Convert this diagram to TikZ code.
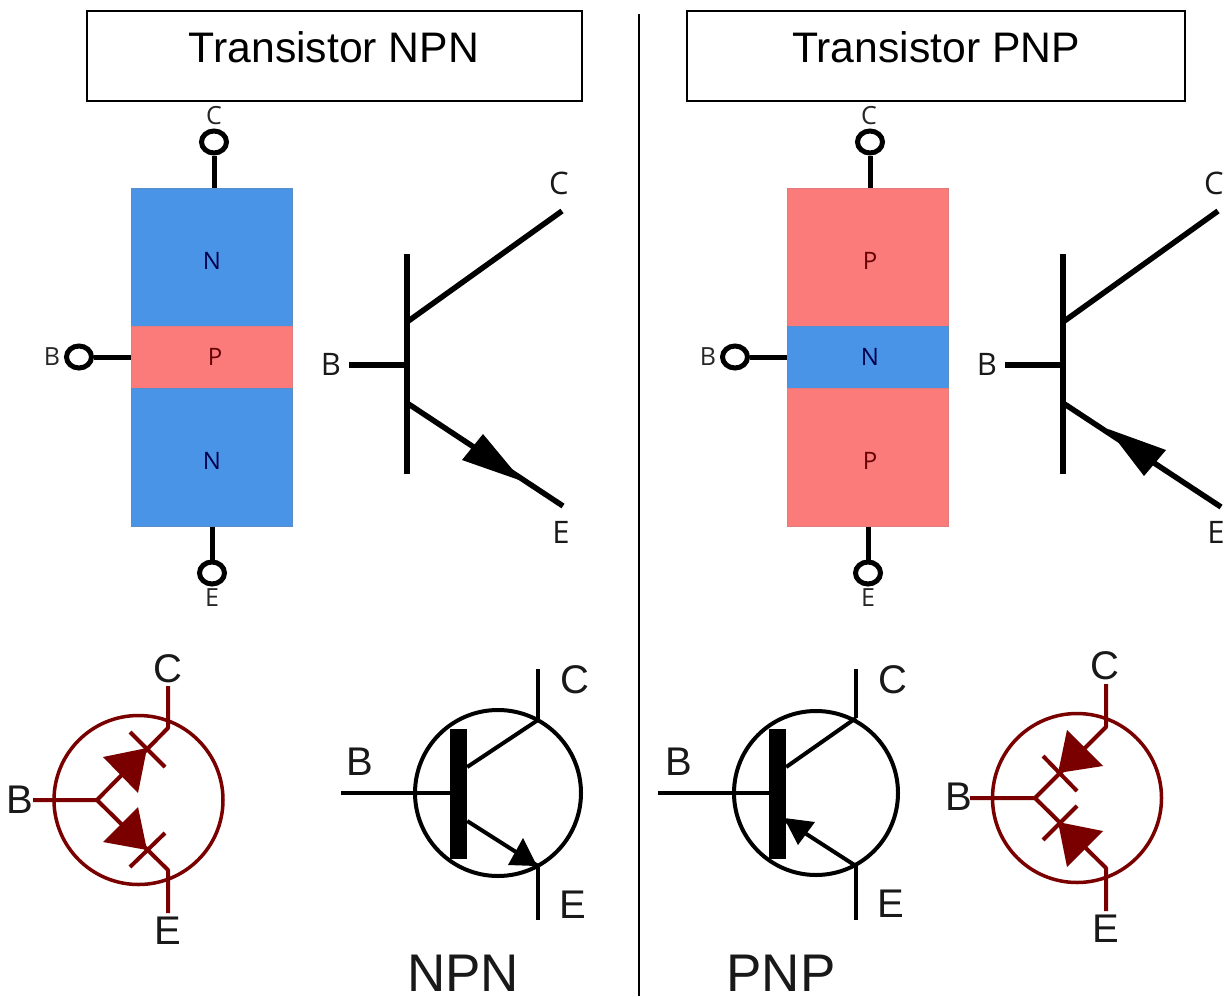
\documentclass[tikz,border=0pt]{standalone}
\usepackage{fontspec}
\setmainfont{Liberation Sans}
\newfontfamily\labelfont{Open Sans}
\usetikzlibrary{calc, arrows, shapes.geometric}
\definecolor{nblue}{HTML}{4A94E8}
\definecolor{pred}{HTML}{FB7B7B}
\definecolor{wine}{HTML}{7A0000}
\tikzstyle{titlebox}=[draw, line width=1.5pt, minimum height=90pt, inner sep=0pt]
\tikzstyle{titletext}=[inner sep=0pt, font=\fontsize{42.7}{50}\selectfont]
\tikzstyle{nlayer}=[fill=nblue, draw=nblue!70!gray, line width=1pt, minimum width=161pt, inner sep=0pt, text=blue!30!black, font=\labelfont\fontsize{24}{28}\selectfont]
\tikzstyle{player}=[fill=pred, draw=pred!80!gray, line width=1pt, minimum width=161pt, inner sep=0pt, text=red!40!black, font=\labelfont\fontsize{24}{28}\selectfont]
\tikzstyle{tall}=[minimum height=138pt, text height=24pt, text depth=0pt]
\tikzstyle{ring}=[draw, ellipse, fill=white, line width=5pt, minimum width=25pt, minimum height=22pt, inner sep=0pt]
\tikzstyle{smalltext}=[inner sep=0pt, text=black!85, font=\labelfont\fontsize{25}{28}\selectfont]
\tikzstyle{midtext}=[inner sep=0pt, text=black!90, font=\labelfont\fontsize{31}{36}\selectfont]
\tikzstyle{bigtext}=[inner sep=0pt, text=black!90, font=\fontsize{40}{46}\selectfont]
\tikzstyle{nametext}=[inner sep=0pt, text=black!90, font=\fontsize{53}{60}\selectfont]
\tikzstyle{leadline}=[line width=5pt]
\tikzstyle{symline}=[line width=5.5pt]
\tikzstyle{wire}=[line width=4pt, wine]
\tikzstyle{bk}=[line width=4pt]
\begin{document}
\begin{tikzpicture}[x=1pt,y=-1pt,node distance=100pt]
      \useasboundingbox (0,0) rectangle (1226,996);
      \fill[white] (0,0) rectangle (1226,996);
      \node [titlebox, minimum width=495pt] (t1) at (334.5,56) {};
      \node [titlebox, minimum width=498pt] (t2) at (936,56) {};
      \node [titletext] (t1text) at (334,47) {Transistor NPN};
      \node [titletext] (t2text) at (936,47) {Transistor PNP};
      \coordinate (sep1) at (639,14);
      \coordinate (sep2) at (639,996);
      \draw [line width=2pt] (sep1) -- (sep2);
      % NPN layers
      \node [nlayer, tall] (n1) at (212,257) {N};
      \node [player, minimum height=62pt] (p1) [below of=n1] {\hspace*{6pt}P};
      \node [nlayer, tall] (n2) [below of=p1] {N};
      \node [ring] (c1) at (214,142) {};
      \node [ring] (b1) at (79,357) {};
      \node [ring] (e1) at (212,573) {};
      \node [smalltext] (c1l) at (214,116) {C};
      \node [smalltext] (b1l) at (52,357) {B};
      \node [smalltext] (e1l) at (212,598) {E};
      \draw [leadline] (c1) -- (c1 |- n1.north);
      \draw [leadline] (b1) -- (p1.west);
      \draw [leadline] (e1) -- (e1 |- n2.south);
      % PNP layers
      \node [player, tall] (p2) at (868,257) {\hspace*{4pt}P};
      \node [nlayer, minimum height=62pt] (n3) [below of=p2] {\hspace*{4pt}N};
      \node [player, tall] (p3) [below of=n3] {\hspace*{4pt}P};
      \node [ring] (c2) at (870,142) {};
      \node [ring] (b2) at (735,357) {};
      \node [ring] (e2) at (868,573) {};
      \node [smalltext] (c2l) at (869,116) {C};
      \node [smalltext] (b2l) at (708,357) {B};
      \node [smalltext] (e2l) at (868,598) {E};
      \draw [leadline] (c2) -- (c2 |- p2.north);
      \draw [leadline] (b2) -- (n3.west);
      \draw [leadline] (e2) -- (e2 |- p3.south);
      % NPN symbol
      \coordinate (bar1a) at (407,254);
      \coordinate (bar1b) at (407,474);
      \coordinate (bas1) at (349,365);
      \coordinate (bas1e) at (407,365);
      \coordinate (col1a) at (407,322);
      \coordinate (col1) at (562,211);
      \coordinate (emi1a) at (407,403);
      \coordinate (emi1) at (563,506);
      \draw [symline] (bar1a) -- (bar1b);
      \draw [symline] (bas1) -- (bas1e);
      \draw [symline] (col1a) -- (col1);
      \draw [symline] (emi1a) -- (emi1);
      \fill (522,481) -- (483,434) -- (462,460) -- cycle;
      \node [midtext] (c3l) at (559,183) {C};
      \node [midtext] (b3l) at (331,364) {B};
      \node [midtext] (e3l) at (561,532) {E};
      % PNP symbol
      \coordinate (bar2a) at (1063,254);
      \coordinate (bar2b) at (1063,474);
      \coordinate (bas2) at (1005,365);
      \coordinate (bas2e) at (1063,365);
      \coordinate (col2a) at (1063,322);
      \coordinate (col2) at (1218,211);
      \coordinate (emi2a) at (1063,403);
      \coordinate (emi2) at (1221,507);
      \draw [symline] (bar2a) -- (bar2b);
      \draw [symline] (bas2) -- (bas2e);
      \draw [symline] (col2a) -- (col2);
      \draw [symline] (emi2a) -- (emi2);
      \fill (1108,429) -- (1166,450) -- (1144,476) -- cycle;
      \node [midtext] (c4l) at (1214,183) {C};
      \node [midtext] (b4l) at (987,364) {B};
      \node [midtext] (e4l) at (1216,532) {E};
      % NPN diode model
      \node [draw=wine, circle, line width=3.5pt, minimum size=169pt, inner sep=0pt] (m1) at (138.5,800) {};
      \coordinate (m1j) at (97,800);
      \coordinate (m1b) at (33,800);
      \coordinate (m1ca) at (168,728);
      \coordinate (m1c) at (168,686);
      \coordinate (m1ea) at (168,870);
      \coordinate (m1e) at (168,913);
      \draw [wire, line join=round] (m1b) -- (m1j) -- (m1ca) -- (m1c);
      \draw [wire, line join=round] (m1j) -- (m1ea) -- (m1e);
      \draw [wire] (130,732) -- (165,767);
      \draw [wire] (165,833) -- (130,867);
      \fill [wine] (103,757) -- (147,748) -- (138,793) -- cycle;
      \fill [wine] (138,807) -- (147,850) -- (103,842) -- cycle;
      \node [bigtext] (c5l) at (168,669) {C};
      \node [bigtext] (b5l) at (20,800) {B};
      \node [bigtext] (e5l) at (168,931) {E};
      % PNP diode model
      \node [draw=wine, circle, line width=3.5pt, minimum size=169pt, inner sep=0pt] (m2) at (1077,798) {};
      \coordinate (m2j) at (1035,798);
      \coordinate (m2b) at (970,798);
      \coordinate (m2ca) at (1106,727);
      \coordinate (m2c) at (1106,684);
      \coordinate (m2ea) at (1106,868);
      \coordinate (m2e) at (1106,911);
      \draw [wire, line join=round] (m2b) -- (m2j) -- (m2ca) -- (m2c);
      \draw [wire, line join=round] (m2j) -- (m2ea) -- (m2e);
      \draw [wire] (1043,756) -- (1077,791);
      \draw [wire] (1077,806) -- (1043,840);
      \fill [wine] (1067,730) -- (1103,766) -- (1058,773) -- cycle;
      \fill [wine] (1058,822) -- (1103,831) -- (1067,867) -- cycle;
      \node [bigtext] (c6l) at (1105,666) {C};
      \node [bigtext] (b6l) at (959,797) {B};
      \node [bigtext] (e6l) at (1106,929) {E};
      % NPN schematic
      \node [draw, circle, bk, minimum size=166pt, inner sep=0pt] (s1) at (498,793) {};
      \node [fill, minimum width=17pt, minimum height=130pt, inner sep=0pt] (s1bar) at (458.5,794) {};
      \coordinate (s1b) at (341,793);
      \coordinate (s1ct) at (538,669);
      \coordinate (s1cj) at (538,720);
      \coordinate (s1ej) at (538,866);
      \coordinate (s1eb) at (538,920);
      \draw [bk] (s1b) -- (s1b -| s1bar.west);
      \draw [bk] ($(s1bar.east)+(0,-27)$) -- (s1cj);
      \draw [bk] ($(s1bar.east)+(0,27)$) -- (s1ej);
      \draw [bk] (s1ct) -- (s1cj);
      \draw [bk] (s1ej) -- (s1eb);
      \fill (537,866) -- (523,838) -- (508,865) -- cycle;
      \node [bigtext] (c7l) at (575,680) {C};
      \node [bigtext] (b7l) at (360,762) {B};
      \node [bigtext] (e7l) at (573,905) {E};
      \node [nametext] (npn) at (463,973) {NPN};
      % PNP schematic
      \node [draw, circle, bk, minimum size=164pt, inner sep=0pt] (s2) at (816,793) {};
      \node [fill, minimum width=17pt, minimum height=130pt, inner sep=0pt] (s2bar) at (777.5,794) {};
      \coordinate (s2b) at (658,793);
      \coordinate (s2ct) at (856,669);
      \coordinate (s2cj) at (856,718);
      \coordinate (s2ej) at (856,866);
      \coordinate (s2eb) at (856,920);
      \draw [bk] (s2b) -- (s2b -| s2bar.west);
      \draw [bk] ($(s2bar.east)+(0,-27)$) -- (s2cj);
      \draw [bk] ($(s2bar.east)+(0,27)$) -- (s2ej);
      \draw [bk] (s2ct) -- (s2cj);
      \draw [bk] (s2ej) -- (s2eb);
      \fill (784,818) -- (815,822) -- (798,845) -- cycle;
      \node [bigtext] (c8l) at (893,680) {C};
      \node [bigtext] (b8l) at (679,762) {B};
      \node [bigtext] (e8l) at (891,904) {E};
      \node [nametext] (pnp) at (781,973) {PNP};
\end{tikzpicture}
\end{document}
